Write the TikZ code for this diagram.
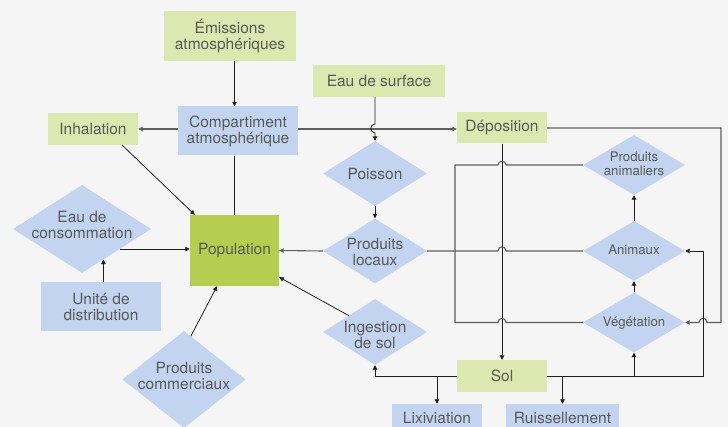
\documentclass[tikz,border=0pt]{standalone}
\usepackage{fontspec}
\setmainfont{TeX Gyre Heros}
\usetikzlibrary{shapes.geometric,arrows.meta,calc}
\definecolor{bg}{HTML}{F5F5F5}
\definecolor{lgreen}{HTML}{DDE8B0}
\definecolor{lblue}{HTML}{C2D4EF}
\definecolor{popg}{HTML}{B6CD4F}
\definecolor{txtc}{HTML}{595959}
\definecolor{lnk}{HTML}{1E1E1E}
\definecolor{lngr}{HTML}{5E5E5E}
\newcommand\dfontA{\fontsize{15.5}{16}\selectfont}
\newcommand\dfontB{\fontsize{13.2}{13.8}\selectfont}
\begin{document}
\begin{tikzpicture}[x=1pt,y=-1pt,
  gbox/.style={rectangle,fill=lgreen,inner sep=0pt,text=txtc,align=center,font=\dfontA},
  bbox/.style={rectangle,fill=lblue,inner sep=0pt,text=txtc,align=center,font=\dfontA},
  popbox/.style={rectangle,fill=popg,inner sep=0pt,text=txtc,align=center,font=\dfontA},
  dia/.style={diamond,fill=lblue,inner sep=0pt},
  txt/.style={text=txtc,align=center,font=\dfontA,inner sep=0pt},
  stxt/.style={text=txtc,align=center,font=\dfontB,inner sep=0pt},
  arr/.style={draw=lnk,line width=0.8pt,-{Triangle[length=4.5pt,width=4.5pt]}},
  arrg/.style={draw=lngr,line width=1.1pt,-{Triangle[length=4.5pt,width=4.5pt]},color=lngr},
  ln/.style={draw=lnk,line width=0.8pt},
  lng/.style={draw=lngr,line width=1.1pt}]
\useasboundingbox (0,0) rectangle (728,427);
\fill[bg] (0,0) rectangle (728,427);
\clip (0,0) rectangle (728,427);

% nodes
\node[gbox,minimum width=132pt,minimum height=50pt] (em) at (230,36) {Émissions\\atmosphériques};
\node[gbox,minimum width=132pt,minimum height=32pt] (eds) at (379,81) {Eau de surface};
\node[bbox,minimum width=120pt,minimum height=49pt] (comp) at (238,131) {Compartiment\\atmosphérique};
\node[gbox,minimum width=90pt,minimum height=32pt] (inh) at (93,129) {Inhalation};
\node[gbox,minimum width=90pt,minimum height=31pt] (dep) at (502,128) {Déposition};
\node[popbox,minimum width=89pt,minimum height=71pt] (pop) at (234.5,250.5) {Population};
\node[dia,minimum width=138pt,minimum height=88pt] (eauc) at (82,229) {};
\node[txt] (eauct) at (82,225) {Eau de\\consommation};
\node[bbox,minimum width=120pt,minimum height=49pt] (unite) at (101,306.5) {Unité de\\distribution};
\node[dia,minimum width=123pt,minimum height=97pt] (pcom) at (184,379.5) {};
\node[txt] (pcomt) at (184,376) {Produits\\commerciaux};
\node[dia,minimum width=104pt,minimum height=65pt] (poisson) at (375,173.5) {};
\node[txt] (poissont) at (375,174) {Poisson};
\node[dia,minimum width=104pt,minimum height=65pt] (locaux) at (375,251) {};
\node[txt] (locauxt) at (375,252) {Produits\\locaux};
\node[dia,minimum width=104pt,minimum height=66pt] (ing) at (375,332) {};
\node[txt] (ingt) at (375,335) {Ingestion\\de sol};
\node[gbox,minimum width=90pt,minimum height=32pt] (sol) at (502,376) {Sol};
\node[bbox,minimum width=90pt,minimum height=32pt] (lix) at (437,420) {};
\node[txt] (lixt) at (437,417.5) {Lixiviation};
\node[bbox,minimum width=113pt,minimum height=32pt] (ruis) at (562.5,420) {};
\node[txt] (ruist) at (562.5,417.5) {Ruissellement};
\node[dia,minimum width=102pt,minimum height=60pt] (panim) at (634,165) {};
\node[stxt] (panimt) at (634,164) {Produits\\animaliers};
\node[dia,minimum width=102pt,minimum height=60pt] (anim) at (634,251) {};
\node[stxt] (animt) at (634,250) {Animaux};
\node[dia,minimum width=102pt,minimum height=60pt] (veg) at (634,322.5) {};
\node[stxt] (vegt) at (634,323) {Végétation};

% connectors
\draw[arr] (em.south -| pop.north) -- (comp.north -| pop.north);
\draw[ln] (comp.south -| pop.north) -- (pop.north);
\draw[arrg] (comp.west |- inh.east) -- (inh.east);
\draw[arrg] (comp.east |- inh.east) -- (dep.west |- inh.east);
\draw[arr] (eds.south -| poisson.north) -- (375,124) .. controls (369,124) and (370,133) .. (375,133) -- (poisson.north);
\draw[arr] (poisson.south) -- (locaux.north);
\draw[arrg] (locaux.west) -- (pop.east);
\draw[arr] ($(inh.south east)+(-16,0)$) -- ($(pop.north west)+(5,0)$);
\draw[arr] (ing.148) -- ($(pop.south east)+(0,-9)$);
\draw[arr] (pcom.81) -- ($(pop.south)+(-17.5,0)$);
\draw[arr] (eauc.-28) -- (eauc.-28 -| pop.west);
\draw[arr] (unite.north -| eauc.-55) -- (eauc.-55);

\draw[arr] (dep.south) -- (sol.north);
\draw[arrg] (dep.east) -- (721,128) -- (721,322.5) -- (707,322.5) .. controls (707,317) and (699,317) .. (699,322.5) -- (veg.east);
\draw[arr] (sol.east) -- (703,376) -- (703,251) -- (anim.east);
\draw[arr] (veg.south |- sol.east) -- (veg.south);
\draw[arr] (sol.west) -- (ing.south |- sol.west) -- (ing.south);
\draw[arr] (lix.north |- sol.west) -- (lix.north);
\draw[arr] (ruis.north |- sol.east) -- (ruis.north);
\draw[arr] (veg.north) -- (anim.south);
\draw[arr] (anim.north) -- (panim.south);
\draw[lng] (panim.west) -- (506,165) .. controls (506,160) and (498,160) .. (498,165) -- (455,165) -- (455,322.5) -- (498,322.5) .. controls (498,317) and (506,317) .. (506,322.5) -- (veg.west);
\draw[lng] (locaux.east) -- (498,251) .. controls (498,245.5) and (506,245.5) .. (506,251) -- (anim.west);
\end{tikzpicture}
\end{document}
